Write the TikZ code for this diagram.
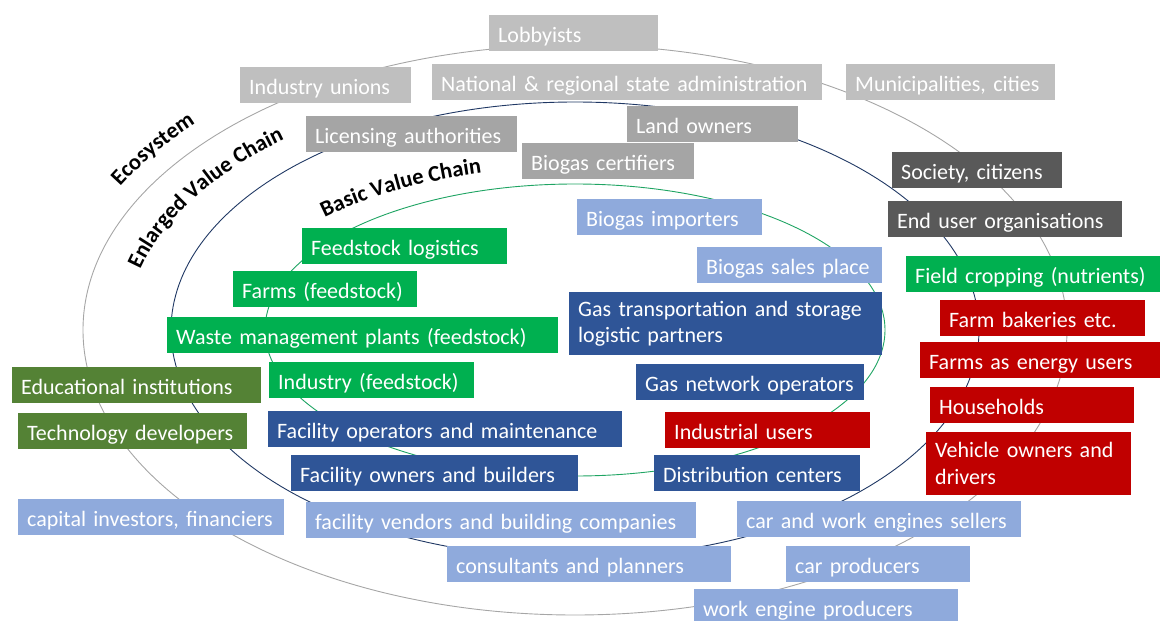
\documentclass[tikz,border=0pt]{standalone}
\usepackage{fontspec}
\setmainfont{Carlito}
\usetikzlibrary{decorations.text}

\definecolor{lgrey}{HTML}{BFBFBF}
\definecolor{mgrey}{HTML}{A5A5A5}
\definecolor{dgrey}{HTML}{595959}
\definecolor{fgreen}{HTML}{00B050}
\definecolor{olive}{HTML}{548235}
\definecolor{lblue}{HTML}{8FAADC}
\definecolor{dblue}{HTML}{2F5597}
\definecolor{dred}{HTML}{C00000}
\definecolor{ecoline}{HTML}{A6A6A6}
\definecolor{evcline}{HTML}{203864}
\definecolor{bvcline}{HTML}{1FA463}

\begin{document}
\begin{tikzpicture}[x=1pt,y=-1pt,
  box/.style={anchor=north west, inner xsep=9pt, inner ysep=0pt, minimum height=36pt,
    text height=20pt, text depth=2pt, align=left, text=white,
    font=\fontsize{22}{26.7}\selectfont},
  twoline/.style={minimum height=63pt, text height={}, text depth={}},
  state/.style={box, fill=lgrey},
  local/.style={box, fill=mgrey},
  civic/.style={box, fill=dgrey},
  feed/.style={box, fill=fgreen},
  know/.style={box, fill=olive},
  trade/.style={box, fill=lblue},
  gas/.style={box, fill=dblue},
  enduse/.style={box, fill=dred},
  ring/.style={line width=0.9pt},
  ringlabel/.style={decorate, decoration={text along path, text align=left,
    text={|\bfseries\fontsize{22.5}{22.5}\selectfont|#1}}}]
\useasboundingbox (0,0) rectangle (1160,621);

% the three chains
\draw[ring, ecoline] (575,330) ellipse [x radius=492pt, y radius=285pt];
\draw[ring, evcline] (575,330) ellipse [x radius=404pt, y radius=228pt];
\draw[ring, bvcline] (575,330) ellipse [x radius=310pt, y radius=146pt];

% names of the chains, set on arcs round the same centre
\path[ringlabel={Ecosystem}]
  ({575+515*cos(152)},{330-305*sin(152)}) arc[start angle=152, end angle=100, x radius=515pt, y radius=305pt];
\path[ringlabel={Enlarged Value Chain}]
  ({575+448*cos(166)},{330-250*sin(166)}) arc[start angle=166, end angle=100, x radius=448pt, y radius=250pt];
\path[ringlabel={Basic Value Chain}]
  ({575+345*cos(136.5)},{330-163*sin(136.5)}) arc[start angle=136.5, end angle=70, x radius=345pt, y radius=163pt];

% ecosystem
\node[state, text width=151pt] (lobbyists) at (489,15) {Lobbyists};
\node[state, text width=153pt] (unions) at (240,67) {Industry unions};
\node[state, text width=372pt] (national) at (432,64) {National \& regional state administration};
\node[state, text width=191pt] (municipal) at (846,64) {Municipalities, cities};
\node[civic, text width=152pt] (society) at (892,152) {Society, citizens};
\node[civic, text width=216pt] (enduser) at (888,201) {End user organisations};
\node[know, text width=231pt] (education) at (12,367) {Educational institutions};
\node[know, text width=211pt] (techdev) at (18,413) {Technology developers};
\node[trade, text width=248pt] (capital) at (18,499) {capital investors, financiers};
\node[trade, text width=266pt] (sellers) at (737,501) {car and work engines sellers};
\node[trade, text width=166pt] (carprod) at (786,546) {car producers};
\node[trade, text width=246pt] (workeng) at (694,589) {work engine producers};

% enlarged value chain
\node[local, text width=193pt] (licensing) at (306,116) {Licensing authorities};
\node[local, text width=153pt] (landowners) at (627,106) {Land owners};
\node[local, text width=154pt] (certifiers) at (522,143) {Biogas certifiers};
\node[trade, text width=167pt] (importers) at (577,199) {Biogas importers};
\node[trade, text width=167pt] (salesplace) at (697,247) {Biogas sales place};
\node[feed, text width=236pt] (fieldcrop) at (906,256) {Field cropping (nutrients)};
\node[enduse, text width=187pt] (bakeries) at (940,300) {Farm bakeries etc.};
\node[enduse, text width=222pt] (farmenergy) at (920,342) {Farms as energy users};
\node[enduse, text width=186pt] (households) at (930,387) {Households};
\node[enduse, twoline, text width=187pt] (vehicles) at (926,432) {Vehicle owners and\\drivers};
\node[trade, text width=372pt] (vendors) at (306,502) {facility vendors and building companies};
\node[trade, text width=266pt] (consultants) at (447,546) {consultants and planners};

% basic value chain
\node[feed, text width=187pt] (feedlog) at (302,228) {Feedstock logistics};
\node[feed, text width=166pt] (farms) at (233,271) {Farms (feedstock)};
\node[feed, text width=373pt] (waste) at (167,317) {Waste management plants (feedstock)};
\node[feed, text width=187pt] (industry) at (269,362) {Industry (feedstock)};
\node[gas, twoline, text width=295pt] (gastransport) at (569,292) {Gas transportation and storage\\logistic partners};
\node[gas, text width=210pt] (gasnet) at (636,364) {Gas network operators};
\node[gas, text width=336pt] (operators) at (268,411) {Facility operators and maintenance};
\node[enduse, text width=187pt] (industrial) at (665,412) {Industrial users};
\node[gas, text width=269pt] (owners) at (291,455) {Facility owners and builders};
\node[gas, text width=188pt] (distribution) at (654,455) {Distribution centers};
\end{tikzpicture}
\end{document}
